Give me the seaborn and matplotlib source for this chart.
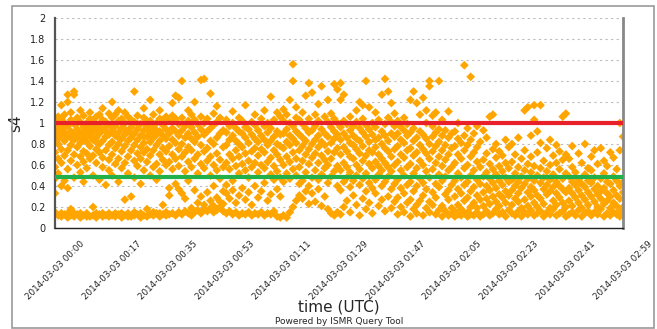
import numpy as np
import pandas as pd
import matplotlib
matplotlib.use("Agg")
import matplotlib.pyplot as plt
from matplotlib.patches import Rectangle
import seaborn as sns

# ---------------- data (s4 values per minute) ----------------
seg_00_00 = [  # minutes 0-17
    [0.15, 0.33, 0.47, 0.58, 0.72, 0.86, 0.93, 1.02],
    [0.12, 0.52, 0.66, 0.80, 0.90, 0.98, 1.06, 0.85],
    [0.11, 0.14, 0.40, 0.62, 0.75, 0.88, 0.95, 1.04, 1.17],
    [0.13, 0.45, 0.69, 0.83, 0.91, 1.00, 1.08, 0.96],
    [0.10, 0.14, 0.38, 0.56, 0.74, 0.87, 0.97, 1.20, 1.27],
    [0.12, 0.18, 0.64, 0.79, 0.92, 1.03, 1.10, 0.86],
    [0.11, 0.14, 0.48, 0.70, 0.84, 0.89, 0.99, 1.27, 1.30],
    [0.13, 0.60, 0.77, 0.86, 0.94, 1.05, 1.00],
    [0.10, 0.14, 0.53, 0.68, 0.81, 0.90, 1.01, 1.12],
    [0.12, 0.44, 0.63, 0.73, 0.85, 0.96, 1.07, 0.91],
    [0.14, 0.11, 0.57, 0.71, 0.82, 0.93, 1.00, 0.87],
    [0.11, 0.66, 0.78, 0.88, 0.97, 1.04, 1.10, 0.92],
    [0.12, 0.20, 0.50, 0.69, 0.84, 0.91, 1.02, 0.97],
    [0.10, 0.14, 0.62, 0.75, 0.86, 0.95, 1.06, 0.82],
    [0.13, 0.46, 0.72, 0.80, 0.90, 0.99, 1.08, 0.94],
    [0.11, 0.14, 0.58, 0.67, 0.83, 0.94, 1.03, 1.14],
    [0.12, 0.41, 0.74, 0.87, 0.92, 1.01, 0.96],
    [0.14, 0.11, 0.55, 0.65, 0.79, 0.89, 0.98, 1.09],
]
seg_00_18 = [  # minutes 18-35
    [0.12, 0.50, 0.70, 0.82, 0.93, 1.05, 1.20, 0.98],
    [0.11, 0.14, 0.61, 0.76, 0.88, 0.97, 1.08],
    [0.13, 0.44, 0.66, 0.80, 0.91, 1.02, 1.12, 0.86],
    [0.10, 0.14, 0.57, 0.73, 0.85, 0.95, 1.04],
    [0.12, 0.27, 0.62, 0.78, 0.89, 1.00, 1.10, 0.94],
    [0.14, 0.11, 0.52, 0.68, 0.83, 0.92, 1.06],
    [0.11, 0.30, 0.74, 0.86, 0.96, 1.03, 0.90],
    [0.12, 0.15, 0.48, 0.64, 0.79, 0.90, 1.01, 1.30],
    [0.13, 0.59, 0.71, 0.84, 0.94, 1.07, 0.99],
    [0.10, 0.14, 0.42, 0.66, 0.77, 0.88, 0.99],
    [0.12, 0.55, 0.72, 0.81, 0.93, 1.05, 1.14, 0.87],
    [0.11, 0.18, 0.63, 0.75, 0.87, 0.97, 1.02],
    [0.13, 0.50, 0.69, 0.82, 0.91, 1.02, 1.22, 0.95],
    [0.12, 0.15, 0.58, 0.74, 0.86, 0.95, 1.08],
    [0.14, 0.46, 0.61, 0.79, 0.89, 1.00, 0.93],
    [0.11, 0.14, 0.54, 0.70, 0.83, 0.92, 1.04, 1.12],
    [0.13, 0.22, 0.65, 0.76, 0.88, 0.98, 1.03],
    [0.12, 0.15, 0.60, 0.73, 0.85, 0.94, 1.06],
]
seg_00_36 = [  # minutes 36-53
    [0.13, 0.31, 0.38, 0.63, 0.78, 0.90, 1.02],
    [0.14, 0.56, 0.70, 0.84, 0.95, 1.07, 1.19],
    [0.12, 0.42, 0.66, 0.81, 0.92, 1.04, 1.26],
    [0.15, 0.37, 0.59, 0.75, 0.88, 0.99, 1.24],
    [0.13, 0.33, 0.68, 0.80, 0.93, 1.05, 1.40],
    [0.16, 0.28, 0.54, 0.72, 0.86, 0.97],
    [0.14, 0.45, 0.63, 0.77, 0.90, 1.02, 1.12],
    [0.12, 0.19, 0.58, 0.74, 0.85, 0.96, 1.08],
    [0.15, 0.36, 0.66, 0.82, 0.91, 1.03, 1.20],
    [0.17, 0.24, 0.52, 0.70, 0.87, 0.99],
    [0.14, 0.30, 0.61, 0.79, 0.94, 1.06, 1.41],
    [0.18, 0.22, 0.57, 0.73, 0.89, 1.00, 1.42],
    [0.16, 0.34, 0.64, 0.76, 0.92, 1.04],
    [0.19, 0.26, 0.50, 0.68, 0.83, 0.95, 1.28],
    [0.15, 0.21, 0.40, 0.60, 0.80, 0.98, 1.09],
    [0.17, 0.29, 0.55, 0.71, 0.86, 1.01, 1.16],
    [0.20, 0.25, 0.47, 0.65, 0.90, 1.05],
    [0.16, 0.23, 0.35, 0.58, 0.77, 0.93],
]
seg_00_54 = [  # minutes 54-71
    [0.14, 0.33, 0.41, 0.62, 0.79, 0.91, 1.03],
    [0.16, 0.28, 0.56, 0.70, 0.84, 0.97],
    [0.13, 0.36, 0.45, 0.66, 0.88, 1.00, 1.11],
    [0.15, 0.24, 0.59, 0.74, 0.83, 0.95],
    [0.12, 0.31, 0.52, 0.68, 0.80, 0.92, 1.05],
    [0.14, 0.38, 0.61, 0.77, 0.90, 1.02],
    [0.13, 0.27, 0.55, 0.71, 0.86, 0.96, 1.17],
    [0.15, 0.34, 0.48, 0.64, 0.81, 0.94],
    [0.12, 0.22, 0.58, 0.73, 0.89, 1.01],
    [0.14, 0.40, 0.62, 0.76, 0.85, 0.98, 1.08],
    [0.13, 0.29, 0.53, 0.69, 0.82, 0.93],
    [0.15, 0.35, 0.60, 0.75, 0.88, 1.04],
    [0.12, 0.43, 0.57, 0.72, 0.84, 0.97, 1.12],
    [0.14, 0.26, 0.63, 0.79, 0.91, 1.00],
    [0.13, 0.32, 0.51, 0.67, 0.83, 0.95, 1.25],
    [0.16, 0.46, 0.59, 0.74, 0.87, 1.03],
    [0.11, 0.37, 0.54, 0.70, 0.80, 0.92, 1.10],
    [0.10, 0.30, 0.48, 0.65, 0.78, 0.89, 1.06],
]
seg_01_12 = [  # minutes 72-89
    [0.12, 0.44, 0.60, 0.76, 0.90, 1.02, 1.13],
    [0.10, 0.52, 0.68, 0.82, 0.94, 1.08],
    [0.15, 0.47, 0.63, 0.79, 0.88, 1.00, 1.22],
    [0.20, 0.56, 0.72, 0.85, 0.97, 1.40, 1.56],
    [0.26, 0.50, 0.66, 0.81, 0.92, 1.05, 1.15],
    [0.31, 0.42, 0.58, 0.74, 0.89, 1.03],
    [0.28, 0.45, 0.64, 0.78, 0.86, 0.99, 1.10],
    [0.35, 0.53, 0.70, 0.83, 0.95, 1.26],
    [0.23, 0.40, 0.61, 0.75, 0.91, 1.04, 1.38],
    [0.33, 0.48, 0.67, 0.80, 0.93, 1.29],
    [0.25, 0.55, 0.71, 0.84, 0.97, 1.08],
    [0.37, 0.46, 0.62, 0.77, 0.88, 1.02, 1.18],
    [0.21, 0.51, 0.69, 0.82, 0.94, 1.35],
    [0.30, 0.57, 0.65, 0.79, 0.90, 1.06],
    [0.18, 0.43, 0.60, 0.73, 0.87, 1.01, 1.22],
    [0.14, 0.49, 0.66, 0.81, 0.96, 1.09],
    [0.12, 0.54, 0.72, 0.85, 0.92, 1.04, 1.37],
    [0.15, 0.40, 0.59, 0.76, 0.89, 1.00, 1.32],
]
seg_01_30 = [  # minutes 90-107
    [0.13, 0.36, 0.55, 0.70, 0.84, 0.96, 1.22, 1.38],
    [0.20, 0.44, 0.62, 0.77, 0.90, 1.02, 1.27],
    [0.26, 0.48, 0.58, 0.73, 0.86, 0.99],
    [0.15, 0.39, 0.53, 0.68, 0.81, 0.93, 1.06],
    [0.31, 0.45, 0.66, 0.79, 0.88, 0.97],
    [0.22, 0.50, 0.60, 0.75, 0.85, 1.01, 1.12],
    [0.12, 0.41, 0.56, 0.71, 0.83, 0.95, 1.20],
    [0.28, 0.47, 0.64, 0.78, 0.91, 1.04, 1.17],
    [0.18, 0.35, 0.52, 0.69, 0.87, 0.98, 1.40],
    [0.24, 0.43, 0.61, 0.74, 0.82, 0.94, 1.15],
    [0.14, 0.38, 0.57, 0.72, 0.89, 1.00],
    [0.33, 0.46, 0.63, 0.77, 0.84, 0.96, 1.10],
    [0.21, 0.51, 0.59, 0.70, 0.86, 1.03],
    [0.27, 0.40, 0.55, 0.66, 0.80, 0.92, 1.27],
    [0.16, 0.44, 0.62, 0.76, 0.88, 0.99, 1.42],
    [0.30, 0.49, 0.58, 0.73, 0.83, 1.05, 1.30],
    [0.19, 0.37, 0.54, 0.68, 0.90, 1.01, 1.19],
    [0.25, 0.42, 0.60, 0.75, 0.87, 0.97, 1.09],
]
seg_01_48 = [  # minutes 108-125
    [0.13, 0.29, 0.46, 0.63, 0.78, 0.90, 1.02],
    [0.20, 0.38, 0.55, 0.70, 0.84, 0.96],
    [0.15, 0.33, 0.50, 0.67, 0.81, 0.93, 1.05],
    [0.24, 0.41, 0.58, 0.74, 0.88, 0.99],
    [0.11, 0.27, 0.44, 0.61, 0.76, 0.91, 1.22],
    [0.18, 0.35, 0.52, 0.69, 0.83, 0.95, 1.30],
    [0.14, 0.22, 0.40, 0.57, 0.72, 0.86, 1.19],
    [0.26, 0.47, 0.64, 0.79, 0.92, 1.08],
    [0.12, 0.31, 0.43, 0.60, 0.75, 0.89, 1.24],
    [0.19, 0.37, 0.54, 0.71, 0.85, 1.00, 1.12],
    [0.15, 0.25, 0.48, 0.66, 0.80, 1.35, 1.40],
    [0.22, 0.34, 0.56, 0.73, 0.87, 0.97, 1.07],
    [0.13, 0.29, 0.42, 0.62, 0.78, 0.91, 1.10],
    [0.17, 0.39, 0.51, 0.68, 0.82, 0.94, 1.40],
    [0.11, 0.21, 0.45, 0.59, 0.74, 0.88, 1.03],
    [0.16, 0.32, 0.49, 0.65, 0.79, 0.93],
    [0.12, 0.27, 0.36, 0.55, 0.70, 0.86, 1.11],
    [0.14, 0.19, 0.41, 0.58, 0.76, 0.90],
]
seg_02_06 = [  # minutes 126-143
    [0.11, 0.16, 0.30, 0.45, 0.62, 0.78, 0.92],
    [0.13, 0.22, 0.37, 0.52, 0.70, 0.85, 1.00],
    [0.12, 0.18, 0.33, 0.48, 0.66, 0.81],
    [0.14, 0.26, 0.41, 0.57, 0.74, 0.88, 1.55],
    [0.11, 0.15, 0.29, 0.44, 0.60, 0.79, 0.95],
    [0.13, 0.20, 0.35, 0.50, 0.68, 0.84, 1.44],
    [0.12, 0.24, 0.39, 0.55, 0.72, 0.90],
    [0.15, 0.19, 0.31, 0.46, 0.63, 0.77, 0.97],
    [0.11, 0.27, 0.42, 0.58, 0.82],
    [0.13, 0.21, 0.34, 0.49, 0.65, 0.93],
    [0.16, 0.28, 0.40, 0.53, 0.71, 0.86],
    [0.12, 0.23, 0.36, 0.47, 0.61, 1.06],
    [0.14, 0.30, 0.43, 0.56, 0.75, 1.08],
    [0.18, 0.25, 0.38, 0.51, 0.67, 0.80],
    [0.13, 0.21, 0.32, 0.45, 0.59, 0.73],
    [0.15, 0.29, 0.41, 0.54, 0.69],
    [0.11, 0.24, 0.35, 0.48, 0.62, 0.84],
    [0.17, 0.31, 0.44, 0.57, 0.77],
]
seg_02_24 = [  # minutes 144-161
    [0.14, 0.22, 0.36, 0.46, 0.63, 0.80],
    [0.12, 0.28, 0.40, 0.52, 0.70],
    [0.16, 0.25, 0.33, 0.44, 0.58, 0.86],
    [0.11, 0.19, 0.38, 0.49, 0.66],
    [0.15, 0.27, 0.42, 0.55, 0.74, 1.12],
    [0.13, 0.21, 0.34, 0.47, 0.61, 1.15],
    [0.17, 0.30, 0.39, 0.53, 0.68, 0.88],
    [0.12, 0.24, 0.36, 0.45, 0.59, 1.03, 1.17],
    [0.14, 0.20, 0.31, 0.50, 0.72, 0.92],
    [0.16, 0.28, 0.43, 0.57, 0.81, 1.17],
    [0.11, 0.23, 0.37, 0.48, 0.64],
    [0.15, 0.32, 0.41, 0.54, 0.76],
    [0.13, 0.19, 0.35, 0.46, 0.60, 0.84],
    [0.18, 0.26, 0.39, 0.51, 0.69],
    [0.12, 0.22, 0.33, 0.44, 0.62, 0.79],
    [0.14, 0.29, 0.40, 0.56, 0.73],
    [0.16, 0.24, 0.37, 0.47, 0.65, 1.06],
    [0.11, 0.20, 0.34, 0.52, 0.70, 1.09],
]
seg_02_42 = [  # minutes 162-179
    [0.13, 0.26, 0.38, 0.49, 0.66],
    [0.15, 0.21, 0.33, 0.44, 0.58, 0.78],
    [0.12, 0.29, 0.41, 0.53],
    [0.17, 0.24, 0.36, 0.46, 0.71],
    [0.11, 0.19, 0.31, 0.42, 0.62],
    [0.14, 0.27, 0.39, 0.51, 0.80],
    [0.16, 0.22, 0.34, 0.45, 0.57],
    [0.12, 0.30, 0.43, 0.55, 0.68],
    [0.15, 0.25, 0.37, 0.48, 0.74],
    [0.13, 0.20, 0.32, 0.40, 0.61],
    [0.18, 0.28, 0.35, 0.47, 0.76],
    [0.11, 0.23, 0.38, 0.52, 0.64],
    [0.14, 0.26, 0.33, 0.44, 0.59],
    [0.12, 0.19, 0.30, 0.42, 0.72],
    [0.15, 0.24, 0.36, 0.49, 0.67],
    [0.13, 0.21, 0.31, 0.45, 0.56],
    [0.11, 0.16, 0.28, 0.40, 0.74, 1.00],
    [0.14, 0.20, 0.34, 0.44, 0.87],
]
segment_start_minutes = [0, 18, 36, 54, 72, 90, 108, 126, 144, 162]

threshold_values = [1.0, 0.49]
threshold_colors = ["#E8202A", "#22B04A"]

x_tick_labels = ["2014-03-03 00:00", "2014-03-03 00:17", "2014-03-03 00:35",
                 "2014-03-03 00:53", "2014-03-03 01:11", "2014-03-03 01:29",
                 "2014-03-03 01:47", "2014-03-03 02:05", "2014-03-03 02:23",
                 "2014-03-03 02:41", "2014-03-03 02:59"]
y_tick_values = [0, 0.2, 0.4, 0.6, 0.8, 1.0, 1.2, 1.4, 1.6, 1.8, 2.0]
y_tick_labels = ["0", "0.2", "0.4", "0.6", "0.8", "1", "1.2", "1.4", "1.6", "1.8", "2"]

# ---------------- build table ----------------
segments = [seg_00_00, seg_00_18, seg_00_36, seg_00_54, seg_01_12,
            seg_01_30, seg_01_48, seg_02_06, seg_02_24, seg_02_42]
rows = []
for start, seg in zip(segment_start_minutes, segments):
    for i, col in enumerate(seg):
        for v in col:
            rows.append((start + i, v))
df = pd.DataFrame(rows, columns=["minute", "s4"])

# ---------------- plot ----------------
sns.set_style("white")
plt.rcParams["font.family"] = ["DejaVu Sans"]

W, H = 657, 329
fig = plt.figure(figsize=(W / 100, H / 100), dpi=100)
ax = fig.add_axes([55 / W, (H - 228) / H, 568 / W, 210 / H])

sns.scatterplot(data=df, x="minute", y="s4", ax=ax, marker="D", s=20,
                color="#FFA500", edgecolor="none", linewidth=0, zorder=2)

for val, colr in zip(threshold_values, threshold_colors):
    ax.axhline(val, color=colr, lw=3.0, zorder=3)

ax.set_xlim(0, 179)
ax.set_ylim(0, 2)
ax.set_yticks(y_tick_values)
ax.set_yticklabels(y_tick_labels, fontsize=7, color="#222222")
ax.set_xticks(np.linspace(0, 179, len(x_tick_labels)))
ax.set_xticklabels(x_tick_labels, rotation=45, ha="center", fontsize=6.3, color="#222222")

ax.yaxis.grid(True, linestyle=(0, (2, 3)), color="#BBBBBB", lw=0.8, zorder=0)
ax.xaxis.grid(False)
ax.set_axisbelow(True)

ax.spines["top"].set_visible(False)
ax.spines["left"].set_color("#555555")
ax.spines["left"].set_linewidth(1.6)
ax.spines["right"].set_color("#888888")
ax.spines["right"].set_linewidth(2.0)
ax.spines["bottom"].set_color("#222222")
ax.spines["bottom"].set_linewidth(1.0)

ax.tick_params(axis="y", direction="out", length=4, width=1, color="#333333", pad=3)
ax.tick_params(axis="x", direction="out", length=6, width=1.2, color="#777777", pad=2)

ax.set_xlabel("")
ax.set_ylabel("s4", fontsize=11, labelpad=8)
ax.yaxis.set_label_coords(-32 / 568, 0.5)

fig.text(339 / W, 1 - 307 / H, "time (UTC)", ha="center", va="center", fontsize=11)
fig.text(339 / W, 1 - 322 / H, "Powered by ISMR Query Tool", ha="center", va="center", fontsize=6.5)

fig.patches.append(Rectangle((11.5 / W, 1 - 327.5 / H), 642.5 / W, 322 / H,
                             transform=fig.transFigure, fill=False,
                             edgecolor="#999999", lw=1.2))

fig.savefig("out.png", dpi=100)
